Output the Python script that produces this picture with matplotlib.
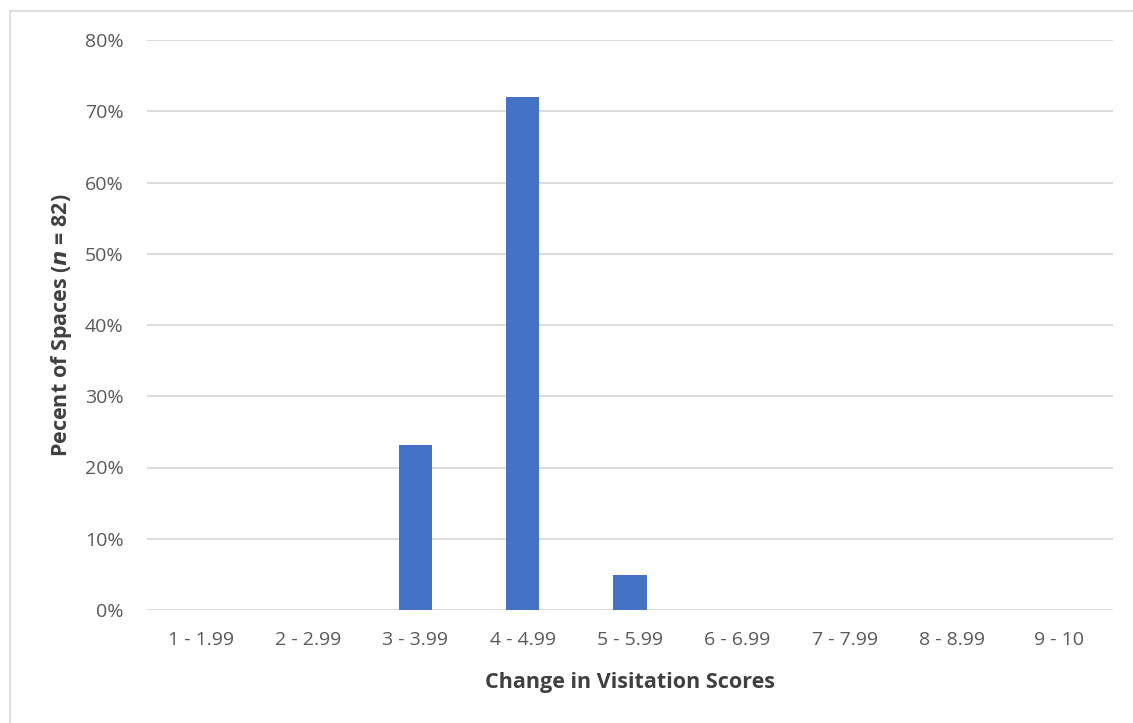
import matplotlib
matplotlib.use("Agg")
import matplotlib.pyplot as plt
from matplotlib.patches import Rectangle
from matplotlib.ticker import PercentFormatter

categories = ["1 - 1.99", "2 - 2.99", "3 - 3.99", "4 - 4.99", "5 - 5.99",
              "6 - 6.99", "7 - 7.99", "8 - 8.99", "9 - 10"]
percent = [0, 0, 23.17, 71.95, 4.88, 0, 0, 0, 0]
y_ticks = [0, 10, 20, 30, 40, 50, 60, 70, 80]

plt.rcParams['font.family'] = ['Open Sans', 'DejaVu Sans']

fig = plt.figure(figsize=(11.33, 7.23), dpi=100)
ax = fig.add_axes([147/1133, 1 - 610/723, (1113 - 147)/1133, (610 - 40)/723])

x = range(len(categories))
ax.bar(x, percent, width=0.31, color="#4472C4", zorder=3)

ax.set_xlim(-0.5, len(categories) - 0.5)
ax.set_ylim(0, 80)
ax.set_yticks(y_ticks)
ax.yaxis.set_major_formatter(PercentFormatter(decimals=0))
ax.set_xticks(list(x))
ax.set_xticklabels(categories)
ax.grid(axis="y", color="#D9D9D9", linewidth=1.3, zorder=0)
ax.tick_params(length=0, labelsize=14, labelcolor="#595959")
ax.tick_params(axis="y", pad=17)
ax.tick_params(axis="x", pad=15)
for s in ax.spines.values():
    s.set_visible(False)

ax.set_xlabel("Change in Visitation Scores", fontsize=15.5, fontweight="bold",
              color="#404040", labelpad=17)
ax.set_ylabel("Pecent of Spaces ($\\bfit{n}$ = 82)", fontsize=15.5, fontweight="bold",
              color="#404040", labelpad=8)

fig.patches.append(Rectangle((10/1133, -0.1), 1.2, 1 - 11/723 + 0.1,
                             transform=fig.transFigure, fill=False,
                             edgecolor="#D9D9D9", linewidth=1.2))

fig.savefig("out.png", dpi=100)
